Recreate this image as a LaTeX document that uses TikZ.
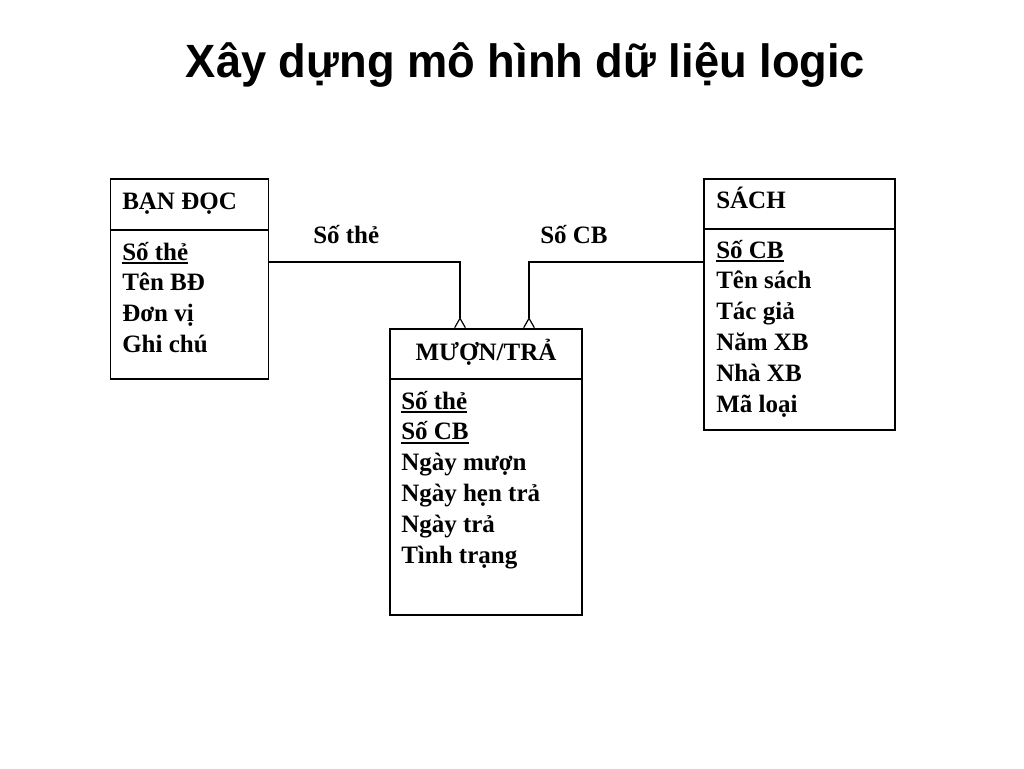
\documentclass[tikz,border=0pt]{standalone}
\usepackage{fontspec}
\setmainfont{Liberation Serif}
\newfontfamily\titlefont{Liberation Sans}
\usetikzlibrary{arrows.meta}

\newcommand{\entfont}{\fontsize{18.75}{23}\selectfont\bfseries}
\newcommand{\pkey}[1]{\leavevmode\vtop{\hbox{#1}\kern1.3pt\hrule height 1.4pt}}

\tikzset{
  entity/.style={draw, line width=1.1pt, inner sep=0pt},
  header/.style={anchor=base west, inner sep=0pt, font=\entfont},
  attr/.style={anchor=base west, inner sep=0pt, font=\entfont},
  link/.style={line width=0.9pt, -{Straight Barb[reversed, length=7pt, width=8pt]}},
}

\begin{document}
\begin{tikzpicture}[x=0.75pt, y=-0.75pt]
  \useasboundingbox[fill=white] (0,0) rectangle (1024,768);

  \node [anchor=base, inner sep=0pt] (title) at (525.5,77)
    {\titlefont\bfseries\fontsize{35}{40}\selectfont\scalebox{0.97}[1]{Xây dựng mô hình dữ liệu logic}};

  % thuc the
  \node [entity, minimum width=118.5pt, minimum height=150pt] (bandoc) at (189.5,279) {};
  \node [entity, minimum width=143.25pt, minimum height=188.25pt] (sach) at (799.5,304.5) {};
  \node [entity, minimum width=144pt, minimum height=214.5pt] (muontra) at (486,472) {};

  \draw [line width=1.1pt] (bandoc.west |- 0,230) -- (bandoc.east |- 0,230);
  \draw [line width=1.1pt] (sach.west |- 0,229) -- (sach.east |- 0,229);
  \draw [line width=1.1pt] (muontra.west |- 0,379) -- (muontra.east |- 0,379);

  \node [header] (hbandoc) at (122,209) {BẠN ĐỌC};
  \node [header] (hsach) at (716,208) {SÁCH};
  \node [header, anchor=base] (hmuontra) at (486,360) {MƯỢN/TRẢ};

  \foreach \t [count=\i from 0] in {\pkey{Số thẻ}, Tên BĐ, Đơn vị, Ghi chú}
    \node [attr] (bd\i) at (122,260+30.7*\i) {\t};
  \foreach \t [count=\i from 0] in {\pkey{Số CB}, Tên sách, Tác giả, Năm XB, Nhà XB, Mã loại}
    \node [attr] (s\i) at (716,258+30.8*\i) {\t};
  \foreach \t [count=\i from 0] in {\pkey{Số thẻ}, \pkey{Số CB}, Ngày mượn, Ngày hẹn trả, Ngày trả, Tình trạng}
    \node [attr] (mt\i) at (401,409+30.8*\i) {\t};

  % lien ket
  \coordinate (a1) at (bandoc.east |- 0,262);
  \coordinate (a2) at (muontra.north -| 460,0);
  \coordinate (b1) at (sach.west |- 0,262);
  \coordinate (b2) at (muontra.north -| 529,0);
  \draw [link] (a1) -| (a2);
  \draw [link] (b1) -| (b2);

  \node [attr] (lsothe) at (313,243) {Số thẻ};
  \node [attr] (lsocb) at (540,243) {Số CB};
\end{tikzpicture}
\end{document}
